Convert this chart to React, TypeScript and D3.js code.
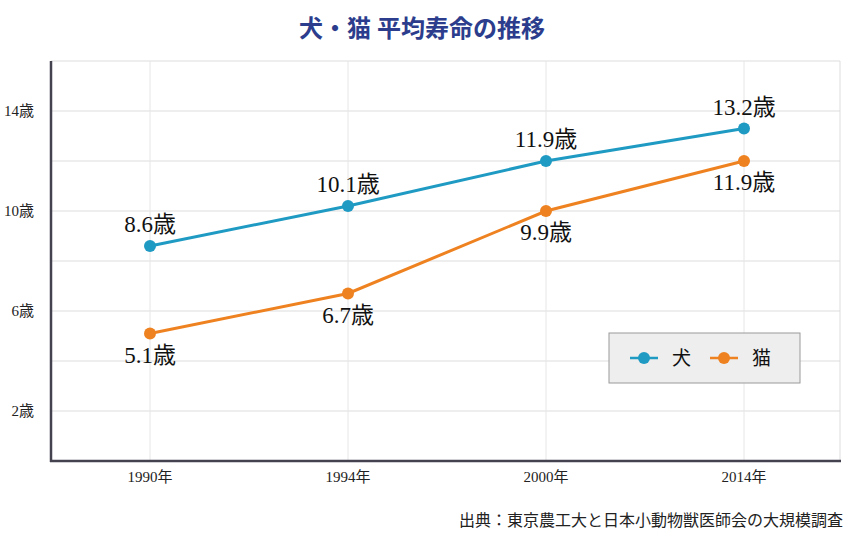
import * as d3 from "d3";
import React, { useEffect, useRef } from "react";

const years = ["1990年", "1994年", "2000年", "2014年"];
// plotted positions
const dogValues = [8.6, 10.2, 12.0, 13.3];
const catValues = [5.1, 6.7, 10.0, 12.0];
// label texts as printed on the chart
const dogLabels = ["8.6歳", "10.1歳", "11.9歳", "13.2歳"];
const catLabels = ["5.1歳", "6.7歳", "9.9歳", "11.9歳"];
const yTicks = [2, 6, 10, 14];
const gridTicks = [0, 2, 4, 6, 8, 10, 12, 14, 16];

const series = [
    { name: "犬", values: dogValues, labels: dogLabels, color: "#1f9ac3", labelDy: -14 },
    { name: "猫", values: catValues, labels: catLabels, color: "#ef8220", labelDy: 29 },
];

const FONT = "'Liberation Serif', 'Noto Sans CJK JP', serif";

export default function App() {
    const svgRef = useRef<SVGSVGElement | null>(null);

    useEffect(() => {
        if (!svgRef.current) return;
        const svg = d3.select(svgRef.current);
        svg.selectAll("*").remove();

        const width = 845;
        const height = 540;
        const left = 51;
        const right = 840;
        const top = 61;
        const bottom = 461;

        const x = d3.scalePoint<string>().domain(years).range([left, left + 792]).padding(0.5);
        const y = d3.scaleLinear().domain([0, 16]).range([bottom, top]);

        svg.attr("width", width).attr("height", height).style("font-family", FONT);

        svg.append("rect").attr("width", width).attr("height", height).attr("fill", "#fff");

        // Grid
        const grid = svg.append("g");
        grid.selectAll(".hg")
            .data(gridTicks)
            .enter()
            .append("line")
            .attr("x1", left).attr("x2", right)
            .attr("y1", (d) => y(d)).attr("y2", (d) => y(d))
            .attr("stroke", "#dddddd").attr("stroke-width", 1);
        grid.selectAll(".vg")
            .data(years)
            .enter()
            .append("line")
            .attr("x1", (d) => x(d)!).attr("x2", (d) => x(d)!)
            .attr("y1", top).attr("y2", bottom)
            .attr("stroke", "#e6e6e6").attr("stroke-width", 1);
        grid.append("line")
            .attr("x1", right).attr("x2", right).attr("y1", top).attr("y2", bottom)
            .attr("stroke", "#dddddd");

        // Axis lines
        svg.append("line")
            .attr("x1", left).attr("x2", left).attr("y1", top).attr("y2", bottom + 1)
            .attr("stroke", "#44424f").attr("stroke-width", 2.5);
        svg.append("line")
            .attr("x1", left - 1).attr("x2", right + 1).attr("y1", bottom).attr("y2", bottom)
            .attr("stroke", "#44424f").attr("stroke-width", 2.5);

        // Y tick labels
        svg.selectAll(".yt")
            .data(yTicks)
            .enter()
            .append("text")
            .attr("x", 34)
            .attr("y", (d) => y(d) + 5)
            .attr("text-anchor", "end")
            .style("font-size", "15px")
            .attr("fill", "#222")
            .text((d) => `${d}歳`);

        // X tick labels
        svg.selectAll(".xt")
            .data(years)
            .enter()
            .append("text")
            .attr("x", (d) => x(d)!)
            .attr("y", 482)
            .attr("text-anchor", "middle")
            .style("font-size", "15px")
            .attr("fill", "#222")
            .text((d) => d);

        const line = d3.line<number>()
            .x((_, i) => x(years[i])!)
            .y((d) => y(d));

        series.forEach((s) => {
            svg.append("path")
                .datum(s.values)
                .attr("d", line)
                .attr("fill", "none")
                .attr("stroke", s.color)
                .attr("stroke-width", 3);
            svg.selectAll(null)
                .data(s.values)
                .enter()
                .append("circle")
                .attr("cx", (_, i) => x(years[i])!)
                .attr("cy", (d) => y(d))
                .attr("r", 6)
                .attr("fill", s.color);
            svg.selectAll(null)
                .data(s.values)
                .enter()
                .append("text")
                .attr("x", (_, i) => x(years[i])!)
                .attr("y", (d) => y(d) + s.labelDy)
                .attr("text-anchor", "middle")
                .style("font-size", "23px")
                .attr("fill", "#111")
                .text((_, i) => s.labels[i]);
        });

        // Legend
        const legend = svg.append("g").attr("transform", "translate(609,333)");
        legend.append("rect")
            .attr("width", 191).attr("height", 50)
            .attr("fill", "#eeeeee").attr("stroke", "#9a9a9a").attr("stroke-width", 1);
        series.forEach((s, i) => {
            const gx = 21 + i * 80;
            legend.append("line")
                .attr("x1", gx).attr("x2", gx + 28).attr("y1", 25).attr("y2", 25)
                .attr("stroke", s.color).attr("stroke-width", 2.5);
            legend.append("circle")
                .attr("cx", gx + 14).attr("cy", 25).attr("r", 6).attr("fill", s.color);
            legend.append("text")
                .attr("x", gx + 42).attr("y", 32)
                .style("font-size", "19px")
                .attr("fill", "#111")
                .text(s.name);
        });

        // Title
        svg.append("text")
            .attr("x", 422)
            .attr("y", 37)
            .attr("text-anchor", "middle")
            .style("font-size", "24px")
            .style("font-weight", "bold")
            .attr("fill", "#2b3d8c")
            .text("犬・猫 平均寿命の推移");

        // Source
        svg.append("text")
            .attr("x", 843)
            .attr("y", 526)
            .attr("text-anchor", "end")
            .style("font-size", "16px")
            .attr("fill", "#222")
            .text("出典：東京農工大と日本小動物獣医師会の大規模調査");
    }, []);

    return <svg ref={svgRef} style={{ display: "block", position: "absolute", left: 0, top: 0 }} />;
}
